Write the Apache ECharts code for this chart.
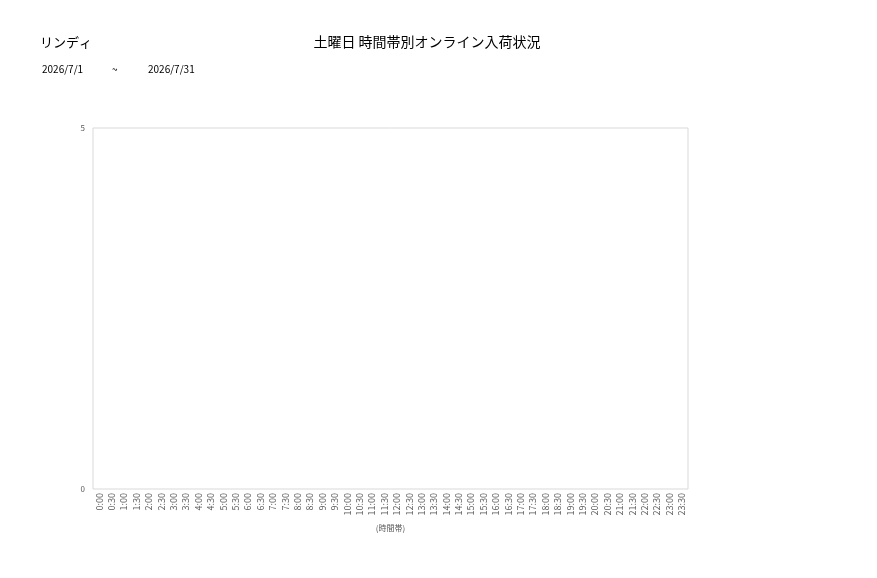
<!DOCTYPE html>
<html><head><meta charset="utf-8">
<script src="https://cdn.jsdelivr.net/npm/echarts@6/dist/echarts.min.js"></script>
<style>html,body{margin:0;padding:0;background:#fff}#c{width:877px;height:578px}</style>
</head><body><div id="c"></div>
<script>
const categories = ["0:00","0:30","1:00","1:30","2:00","2:30","3:00","3:30","4:00","4:30","5:00","5:30","6:00","6:30","7:00","7:30","8:00","8:30","9:00","9:30","10:00","10:30","11:00","11:30","12:00","12:30","13:00","13:30","14:00","14:30","15:00","15:30","16:00","16:30","17:00","17:30","18:00","18:30","19:00","19:30","20:00","20:30","21:00","21:30","22:00","22:30","23:00","23:30"];
const values = [0,0,0,0,0,0,0,0,0,0,0,0,0,0,0,0,0,0,0,0,0,0,0,0,0,0,0,0,0,0,0,0,0,0,0,0,0,0,0,0,0,0,0,0,0,0,0,0];
const yTicks = [0, 5];
const font = "'Noto Sans CJK JP', 'Noto Sans', sans-serif";
const chart = echarts.init(document.getElementById('c'), null, {renderer:'canvas'});
const t = (text, left, top, size, extra) => Object.assign({text, left, top, padding:0,
  textStyle:{fontSize:size, fontWeight:'normal', color:'#000', fontFamily:font}}, extra||{});
chart.setOption({
  animation:false,
  textStyle:{fontFamily:font},
  title:[
    t('リンディ', 40, 36, 13),
    t('土曜日 時間帯別オンライン入荷状況', 427, 35, 14, {textAlign:'center'}),
    t('2026/7/1', 42, 64, 10),
    t('~', 112, 64, 10),
    t('2026/7/31', 148, 64, 10)
  ],
  grid:{left:93, right:189, top:128, bottom:89, show:true, borderColor:'#d9d9d9', borderWidth:1},
  xAxis:{type:'category', data:categories, name:'(時間帯)', nameLocation:'middle', nameGap:35,
    nameTextStyle:{fontSize:8, color:'#595959'},
    axisLine:{show:false}, axisTick:{show:false},
    axisLabel:{rotate:90, interval:0, fontSize:9, color:'#595959', margin:4}},
  yAxis:{type:'value', min:yTicks[0], max:yTicks[yTicks.length-1], interval:5,
    axisLine:{show:false}, axisTick:{show:false}, splitLine:{show:false},
    axisLabel:{fontSize:8, color:'#595959', margin:8}},
  series:[{type:'bar', data:values, itemStyle:{color:'#4472c4'}}]
});
</script></body></html>
